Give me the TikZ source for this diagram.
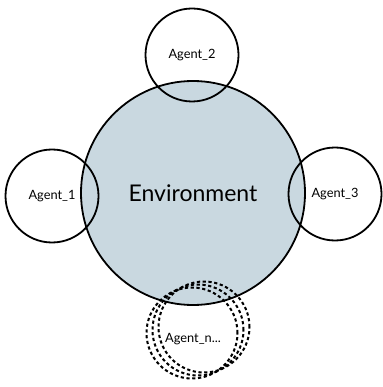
\documentclass[tikz,border=0pt]{standalone}
\usepackage{fontspec}
\setmainfont{Lato}
\definecolor{envfill}{RGB}{201,216,224}
\begin{document}
\begin{tikzpicture}[x=1pt,y=-1pt,
  envbox/.style={circle,draw=black,line width=1.8pt,fill=envfill,minimum size=224pt,inner sep=0pt,font=\fontsize{23}{26}\selectfont},
  agentbox/.style={circle,draw=black,line width=1.8pt,minimum size=93pt,inner sep=0pt,font=\fontsize{12.8}{14}\selectfont},
  ghostbox/.style={circle,draw=black,line width=2pt,dash pattern=on 3.2pt off 2.6pt,minimum size=91pt,inner sep=0pt},
  labelbox/.style={inner sep=0pt,font=\fontsize{12.8}{14}\selectfont}]
\useasboundingbox (0,0) rectangle (382,387);
\node[envbox] (env) at (193,193) {Environment};
\node[agentbox] (a2) at (192,55) {Agent\_2};
\node[agentbox] (a1) at (52,196) {Agent\_1};
\node[agentbox] (a3) at (335,194) {Agent\_3};
\node[ghostbox] (gn1) at (192,333) {};
\node[ghostbox] (gn2) at (198,330) {};
\node[ghostbox] (gn3) at (204,327) {};
\node[labelbox] (an) at (193,339) {Agent\_n...};
\end{tikzpicture}
\end{document}
